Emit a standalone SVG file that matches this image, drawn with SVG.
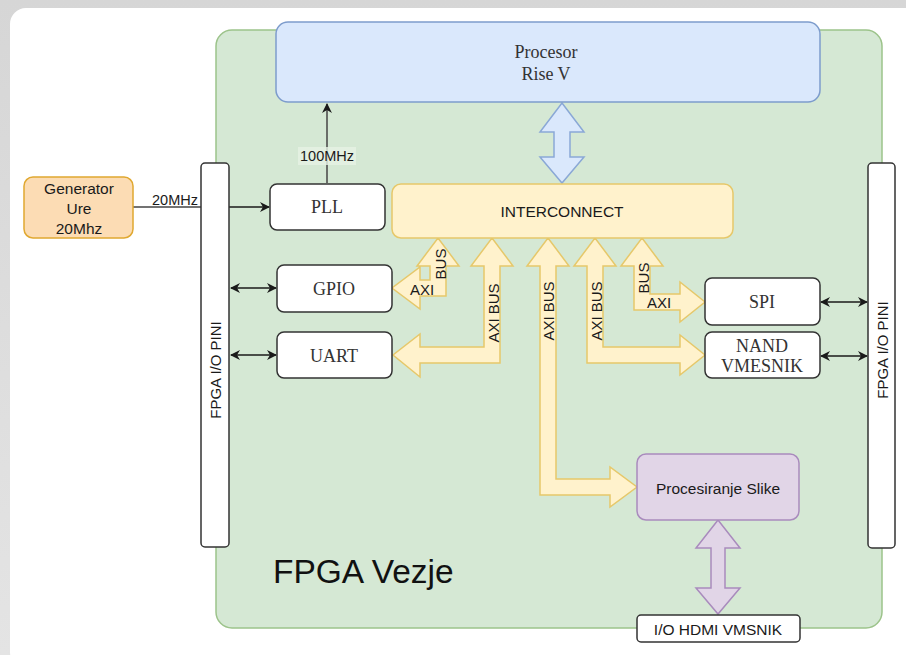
<svg xmlns="http://www.w3.org/2000/svg" width="906" height="655" viewBox="0 0 906 655">
<defs>
<linearGradient id="bg" x1="0" y1="0" x2="0" y2="1">
<stop offset="0" stop-color="#d6d6d6"/><stop offset="1" stop-color="#e4e4e4"/>
</linearGradient>
<marker id="ah" viewBox="0 0 10 10" refX="9" refY="5" markerWidth="10" markerHeight="10" markerUnits="userSpaceOnUse" orient="auto-start-reverse">
<path d="M0,0 L10,5 L0,10 L3,5 Z" fill="#1a1a1a"/>
</marker>
<style>
.box{fill:#ffffff;stroke:#333333;stroke-width:1.5}
.serif{font-family:"Liberation Serif","Times New Roman",serif;font-size:18px;fill:#333;text-anchor:middle;dominant-baseline:central}
.sans{font-family:"Liberation Sans",Arial,sans-serif;fill:#1a1a1a;text-anchor:middle;dominant-baseline:central}
.lbl{font-family:"Liberation Sans",Arial,sans-serif;font-size:15px;fill:#1a1a1a;text-anchor:middle;dominant-baseline:central}
.bus{fill:#fff2cc;stroke:#e6c86a;stroke-width:1.5;stroke-linejoin:miter}
.line{fill:none;stroke:#1a1a1a;stroke-width:1.5}
.lineg{fill:none;stroke:#444;stroke-width:1.5}
</style>
</defs>
<rect x="0" y="0" width="906" height="655" fill="url(#bg)"/>
<rect x="10" y="8" width="910" height="660" rx="16" fill="#ffffff"/>

<g id="fpga">
<rect x="216" y="30" width="666" height="598" rx="16" fill="#d5e8d4" stroke="#9cc38a" stroke-width="1.5"/>
<text x="273" y="571" style="font-family:'Liberation Sans',Arial,sans-serif;font-size:33.5px;fill:#111;dominant-baseline:central">FPGA Vezje</text>
</g>

<g id="connectors">
<line class="lineg" x1="133" y1="207" x2="201" y2="207"/>
<text class="lbl" x="175" y="200" style="font-size:14.5px">20MHz</text>
<line class="line" x1="229" y1="207" x2="269" y2="207" marker-end="url(#ah)"/>
<line class="lineg" x1="327" y1="183" x2="327" y2="104" marker-end="url(#ah)"/>
<rect x="298" y="147" width="58" height="18" fill="#e6f1e4" opacity="0.8"/>
<text class="lbl" x="327" y="156" style="font-size:14.5px">100MHz</text>
<line class="line" x1="231" y1="288" x2="276" y2="288" marker-start="url(#ah)" marker-end="url(#ah)"/>
<line class="line" x1="231" y1="355" x2="276" y2="355" marker-start="url(#ah)" marker-end="url(#ah)"/>
<line class="line" x1="821" y1="302" x2="867" y2="302" marker-start="url(#ah)" marker-end="url(#ah)"/>
<line class="line" x1="821" y1="356" x2="867" y2="356" marker-start="url(#ah)" marker-end="url(#ah)"/>
<polygon points="562,103 584,132 570,132 570,157 584,157 562,183 540,157 554,157 554,132 540,132" fill="#dae8fc" stroke="#8aa8d6" stroke-width="1.5"/>
<polygon points="718,520 740,548 725,548 725,588 740,588 718,614 696,588 711,588 711,548 696,548" fill="#e1d5e7" stroke="#a98bbd" stroke-width="1.5"/>
<polygon class="bus" points="438,238 459,266 446,266 446,296 420,296 420,309 392,288 420,267 420,280 430,280 430,266 417,266"/>
<polygon class="bus" points="492,238 513,266 500,266 500,363 420,363 420,377 393,355 420,334 420,347 484,347 484,266 471,266"/>
<polygon class="bus" points="548,238 569,266 556,266 556,479 610,479 610,467 637,487 610,507 610,495 540,495 540,266 527,266"/>
<polygon class="bus" points="595,238 616,266 603,266 603,347 680,347 680,335 705,355 680,375 680,363 587,363 587,266 574,266"/>
<polygon class="bus" points="642,238 663,266 650,266 650,294 680,294 680,282 705,302 680,322 680,310 634,310 634,266 621,266"/>
<text class="lbl" x="422" y="289">AXI</text>
<text class="lbl" transform="translate(440,264) rotate(-90)" x="0" y="0">BUS</text>
<text class="lbl" transform="translate(493,313) rotate(-90)" x="0" y="0">AXI BUS</text>
<text class="lbl" transform="translate(548,311) rotate(-90)" x="0" y="0">AXI BUS</text>
<text class="lbl" transform="translate(596,311) rotate(-90)" x="0" y="0">AXI BUS</text>
<text class="lbl" transform="translate(643,278) rotate(-90)" x="0" y="0">BUS</text>
<text class="lbl" x="659" y="302">AXI</text>
</g>

<g id="procesor">
<rect x="276" y="22" width="544" height="80" rx="12" fill="#dae8fc" stroke="#7d9ccc" stroke-width="1.5"/>
<text class="serif" x="546" y="52">Procesor</text>
<text class="serif" x="546" y="74">Rise V</text>
</g>

<g id="generator">
<rect x="24" y="177" width="109" height="61" rx="9" fill="#fcdcb4" stroke="#e0a830" stroke-width="1.5"/>
<text class="sans" x="79" y="188" style="font-size:15.5px">Generator</text>
<text class="sans" x="79" y="208" style="font-size:15.5px">Ure</text>
<text class="sans" x="79" y="228" style="font-size:15.5px">20Mhz</text>
</g>

<g id="pins-left">
<rect class="box" x="201" y="163" width="28" height="384" rx="4"/>
<text class="lbl" transform="translate(215,370) rotate(-90)" x="0" y="0">FPGA I/O PINI</text>
</g>

<g id="pins-right">
<rect class="box" x="868" y="163" width="27" height="385" rx="4"/>
<text class="lbl" transform="translate(882,350) rotate(-90)" x="0" y="0">FPGA I/O PINI</text>
</g>

<g id="pll">
<rect class="box" x="270" y="184" width="115" height="46" rx="7"/>
<text class="serif" x="327" y="207">PLL</text>
</g>

<g id="interconnect">
<rect x="392" y="184" width="341" height="54" rx="9" fill="#fff2cc" stroke="#e6c86a" stroke-width="1.5"/>
<text class="sans" x="562" y="211" style="font-size:15.5px">INTERCONNECT</text>
</g>

<g id="gpio">
<rect class="box" x="277" y="265" width="115" height="47" rx="7"/>
<text class="serif" x="334" y="289">GPIO</text>
</g>

<g id="uart">
<rect class="box" x="277" y="332" width="115" height="46" rx="7"/>
<text class="serif" x="334" y="356">UART</text>
</g>

<g id="spi">
<rect class="box" x="705" y="278" width="115" height="47" rx="7"/>
<text class="serif" x="762" y="302">SPI</text>
</g>

<g id="nand">
<rect class="box" x="705" y="332" width="115" height="46" rx="7"/>
<text class="serif" x="762" y="346">NAND</text>
<text class="serif" x="762" y="366">VMESNIK</text>
</g>

<g id="procesiranje">
<rect x="637" y="454" width="162" height="66" rx="9" fill="#e1d5e7" stroke="#a98bbd" stroke-width="1.5"/>
<text class="sans" x="718" y="488" style="font-size:15.5px">Procesiranje Slike</text>
</g>

<g id="hdmi">
<rect class="box" x="637" y="615" width="163" height="27" rx="4"/>
<text class="sans" x="718" y="629" style="font-size:15.5px">I/O HDMI VMSNIK</text>
</g>
</svg>
